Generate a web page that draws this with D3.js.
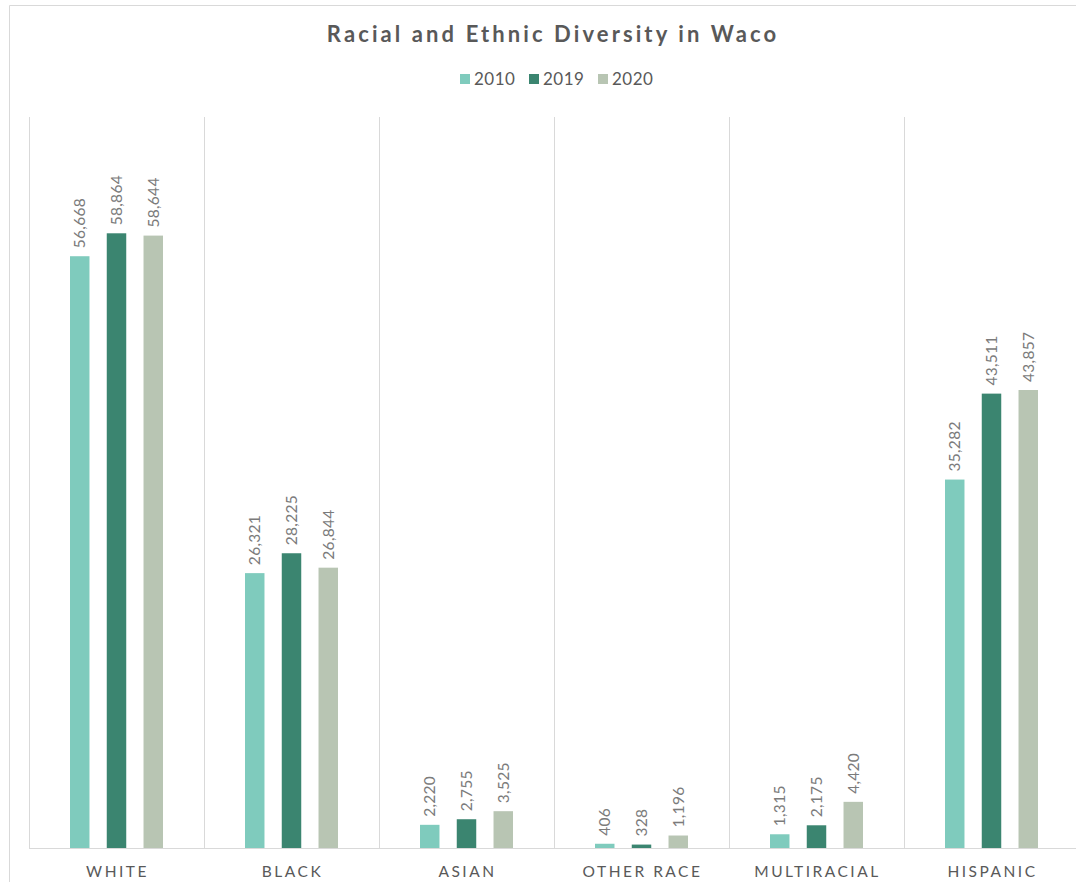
<!DOCTYPE html>
<html><head><meta charset="utf-8">
<script src="https://cdn.jsdelivr.net/npm/d3@7"></script>
<style>body{margin:0;background:#fff}</style>
</head><body>
<svg id="c" width="1076" height="882"></svg>
<script>
const categories = ["WHITE","BLACK","ASIAN","OTHER RACE","MULTIRACIAL","HISPANIC"];
const seriesNames = ["2010","2019","2020"];
const values2010 = [56668,26321,2220,406,1315,35282];
const values2019 = [58864,28225,2755,328,2175,43511];
const values2020 = [58644,26844,3525,1196,4420,43857];
const colors = ["#7fcbbd","#3b8570","#b8c5b3"];
const seriesVals = [values2010, values2019, values2020];

const svg = d3.select("#c");
const font = "Lato, 'Open Sans', sans-serif";

// frame
svg.append("path").attr("d","M9.5,882 V5.5 H1076").attr("fill","none").attr("stroke","#d9d9d9").attr("stroke-width",1);

const x0 = d3.scaleBand().domain(categories).range([29,1079]);
const x1 = d3.scaleBand().domain(seriesNames).range([41,134]).paddingInner(0.47);
const y = d3.scaleLinear().domain([0,70000]).range([848,117]);

// vertical gridlines at category boundaries
const bounds = categories.map(c=>x0(c)).concat([x0.range()[1]]);
svg.append("g").selectAll("line").data(bounds).join("line")
  .attr("x1",d=>Math.round(d)+0.5).attr("x2",d=>Math.round(d)+0.5)
  .attr("y1",y(70000)).attr("y2",y(0)).attr("stroke","#d9d9d9");
// baseline
svg.append("line").attr("x1",29).attr("x2",1079).attr("y1",y(0)+0.5).attr("y2",y(0)+0.5).attr("stroke","#d9d9d9");

// bars
const data = [];
categories.forEach((c,i)=>seriesNames.forEach((s,j)=>data.push({c,s,v:seriesVals[j][i],col:colors[j]})));
const g = svg.append("g");
g.selectAll("rect").data(data).join("rect")
  .attr("x",d=>x0(d.c)+x1(d.s)).attr("width",x1.bandwidth())
  .attr("y",d=>y(d.v)).attr("height",d=>y(0)-y(d.v)).attr("fill",d=>d.col);
g.selectAll("text").data(data).join("text")
  .attr("transform",d=>`translate(${x0(d.c)+x1(d.s)+x1.bandwidth()/2+5.5},${y(d.v)-8}) rotate(-90)`)
  .attr("text-anchor","start").attr("font-family",font).attr("font-size",15.5)
  .attr("letter-spacing","0.3px")
  .attr("fill","#7b7b7b").text(d=>d3.format(",")(d.v));

// category labels
svg.append("g").selectAll("text").data(categories).join("text")
  .attr("x",d=>x0(d)+x0.bandwidth()/2+1).attr("y",877)
  .attr("text-anchor","middle").attr("font-family",font).attr("font-size",15.5)
  .attr("letter-spacing","2.5px").attr("fill","#595959").text(d=>d);

// title
svg.append("text").attr("x",553).attr("y",42).attr("text-anchor","middle")
  .attr("font-family",font).attr("font-weight","bold").attr("font-size",22)
  .attr("letter-spacing","3.1px").attr("fill","#595959").text("Racial and Ethnic Diversity in Waco");

// legend
const legX = [460,529,598];
const leg = svg.append("g");
seriesNames.forEach((s,i)=>{
  leg.append("rect").attr("x",legX[i]).attr("y",74).attr("width",10).attr("height",10).attr("fill",colors[i]);
  leg.append("text").attr("x",legX[i]+14).attr("y",85).attr("font-family",font).attr("font-size",17)
    .attr("letter-spacing","0.5px").attr("fill","#595959").text(s);
});
</script>
</body></html>
